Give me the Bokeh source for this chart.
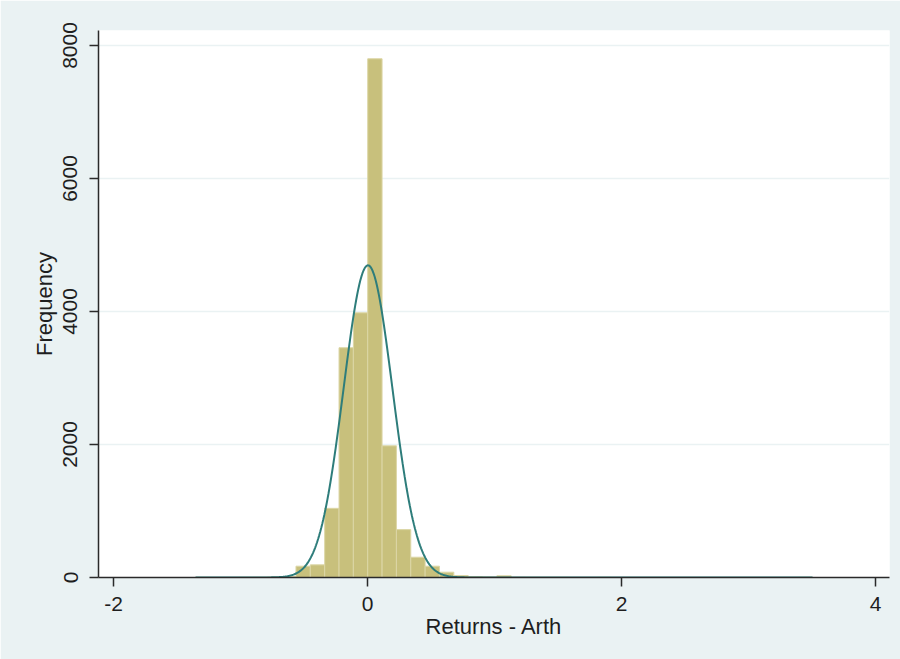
import numpy as np
from bokeh.plotting import figure
from bokeh.models import Range1d, FixedTicker, ColumnDataSource
from bokeh.embed import file_html
from bokeh.resources import INLINE

# ---- data ----
x_min = -1.354          # smallest return
x_max = 3.504           # largest return
n_bins = 43
counts = [1, 0, 0, 1, 2, 5, 15, 170, 190, 1040, 3455, 3980, 7800, 1980, 720, 305,
          170, 80, 30, 12, 8, 25, 3, 2, 1, 1, 0, 0, 1, 0, 0, 0, 0, 0, 0, 0,
          0, 0, 0, 0, 0, 0, 1]
mean_ret = 0.004        # normal overlay parameters
sd_ret = 0.192
x_ticks = [-2, 0, 2, 4]
y_ticks = [0, 2000, 4000, 6000, 8000]
x_title = "Returns - Arth"
y_title = "Frequency"

# ---- derived ----
edges = np.linspace(x_min, x_max, n_bins + 1)
bin_w = edges[1] - edges[0]
n_obs = sum(counts)
bars = ColumnDataSource(dict(left=edges[:-1], right=edges[1:], top=counts))

xs = np.linspace(x_min, x_max, 600)
ys = n_obs * bin_w * np.exp(-0.5 * ((xs - mean_ret) / sd_ret) ** 2) / (sd_ret * np.sqrt(2 * np.pi))
curve = ColumnDataSource(dict(x=xs, y=ys))

FONT = "Liberation Sans"
BG = "#EAF2F3"

p = figure(width=900, height=659, output_backend="svg", toolbar_location=None,
           x_range=Range1d(-2.118, 4.11), y_range=Range1d(0, 8225),
           min_border_left=98, min_border_right=11, min_border_top=30, min_border_bottom=82)
p.border_fill_color = BG
p.background_fill_color = "white"
p.outline_line_color = None

p.quad(left="left", right="right", top="top", bottom=0, source=bars,
       fill_color="#C8C07C", line_color="#DCD6A6", line_width=1)
p.line("x", "y", source=curve, line_color="#2E7D7B", line_width=2)

p.xgrid.visible = False
p.ygrid.grid_line_color = BG
p.ygrid.grid_line_width = 1.5
p.ygrid.ticker = FixedTicker(ticks=y_ticks)

for ax, ticks in ((p.xaxis, x_ticks), (p.yaxis, y_ticks)):
    ax.ticker = FixedTicker(ticks=ticks)
    ax.major_label_overrides = {t: str(t) for t in ticks}
    ax.axis_line_color = "#2a2a2a"
    ax.axis_line_width = 1.5
    ax.major_tick_line_color = "#2a2a2a"
    ax.major_tick_line_width = 1.5
    ax.major_tick_out = 9
    ax.major_tick_in = 0
    ax.minor_tick_line_color = None
    ax.major_label_text_font = FONT
    ax.major_label_text_font_size = "21px"
    ax.major_label_text_color = "#1e1e1e"
    ax.axis_label_text_font = FONT
    ax.axis_label_text_font_size = "22px"
    ax.axis_label_text_font_style = "normal"
    ax.axis_label_text_color = "#1e1e1e"

p.xaxis.axis_label = x_title
p.yaxis.axis_label = y_title
p.yaxis.major_label_orientation = "vertical"
p.xaxis.major_label_standoff = 10
p.yaxis.major_label_standoff = 12
p.xaxis.axis_label_standoff = 0
p.yaxis.axis_label_standoff = 4

open("out.html", "w").write(file_html(p, INLINE))
